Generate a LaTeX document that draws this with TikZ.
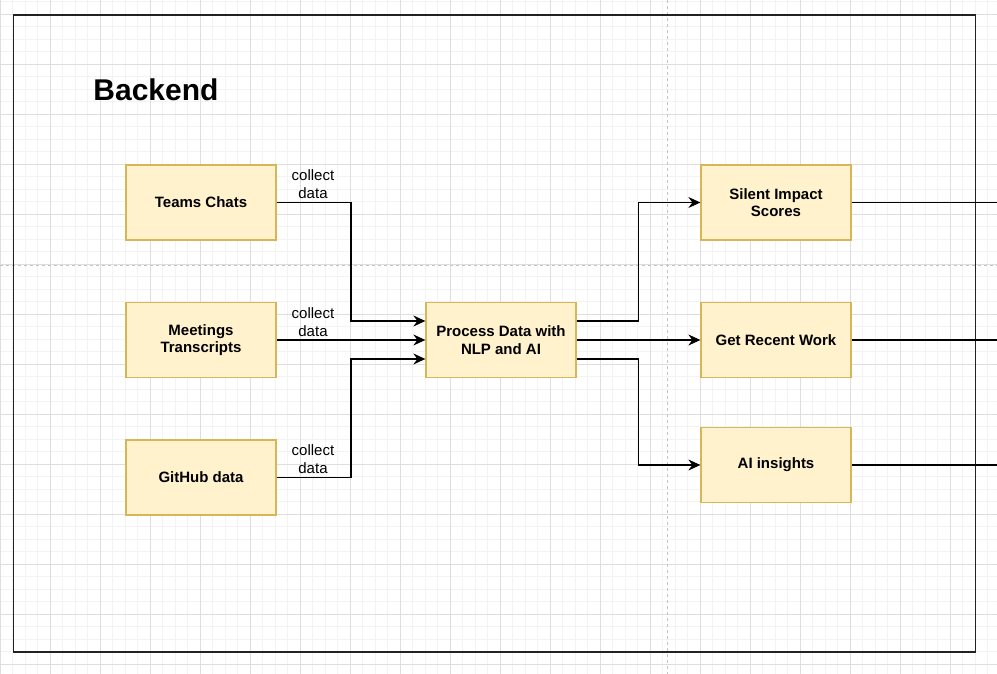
\documentclass[tikz,border=0pt]{standalone}
\usepackage{fontspec}
\setmainfont{Liberation Sans}
\usetikzlibrary{arrows.meta,calc}
\definecolor{boxfill}{HTML}{FFF2CC}
\definecolor{boxline}{HTML}{D6B656}
\definecolor{gridminor}{HTML}{F3F3F3}
\definecolor{gridmajor}{HTML}{DEDEDE}
\definecolor{pageline}{HTML}{C4C4C4}
\definecolor{frameline}{HTML}{222222}
\tikzset{
  box/.style={draw=boxline, fill=boxfill, line width=1.3pt, minimum width=150pt, minimum height=75pt,
    inner sep=0pt, align=center, font=\bfseries\fontsize{15}{17.7}\selectfont},
  arr/.style={draw=black, line width=1.25pt, -{Stealth[length=12pt,width=11pt,inset=4pt]}},
  plainline/.style={draw=black, line width=1.25pt},
  lbl/.style={align=center, inner sep=0pt, font=\fontsize{15}{18}\selectfont},
}
\begin{document}
\begin{tikzpicture}[x=1pt,y=-1pt]
\useasboundingbox (0,0) rectangle (997,674);
\fill[white] (0,0) rectangle (997,674);
% grid
\foreach \i in {0,...,80} {
  \draw[gridminor, line width=1pt] ({\i*12.5},0) -- ({\i*12.5},674);
}
\foreach \j in {0,...,54} {
  \draw[gridminor, line width=1pt] (0,{1.8+\j*12.5}) -- (997,{1.8+\j*12.5});
}
\foreach \i in {0,...,20} {
  \draw[gridmajor, line width=1pt] ({\i*50},0) -- ({\i*50},674);
}
\foreach \j in {0,...,13} {
  \draw[gridmajor, line width=1pt] (0,{14.3+\j*50}) -- (997,{14.3+\j*50});
}
% page break lines
\draw[pageline, line width=1pt, dash pattern=on 3pt off 3pt] (667,0) -- (667,674);
\draw[pageline, line width=1pt, dash pattern=on 3pt off 3pt] (0,265) -- (997,265);
% outer frame
\draw[frameline, line width=1.3pt] (13.5,15) rectangle (975.5,652);
\node[font=\bfseries\fontsize{30}{36}\selectfont, inner sep=0pt] (title) at (156,90) {Backend};
% nodes
\node[box] (tc) at (201,202.5) {Teams Chats};
\node[box] (mt) at (201,340) {Meetings\\Transcripts};
\node[box] (gh) at (201,477.5) {GitHub data};
\node[box] (pd) at (501,340) {Process Data with\\NLP and AI};
\node[box] (si) at (776,202.5) {Silent Impact\\Scores};
\node[box] (gr) at (776,340) {Get Recent Work};
\node[box] (ai) at (776,465) {AI insights};
% inputs
\draw[arr] (tc.east) -- (351,202.5) |- ([yshift=19pt]pd.west);
\draw[arr] (mt.east) -- (pd.west);
\draw[arr] (gh.east) -- (351,477.5) |- ([yshift=-19pt]pd.west);
\node[lbl] (l1) at (313,184) {collect\\data};
\node[lbl] (l2) at (313,322) {collect\\data};
\node[lbl] (l3) at (313,459) {collect\\data};
% outputs
\draw[arr] ([yshift=19pt]pd.east) -- (638.5,321) |- (si.west);
\draw[arr] (pd.east) -- (gr.west);
\draw[arr] ([yshift=-19pt]pd.east) -- (638.5,359) |- (ai.west);
\coordinate (o1) at (997,202.5);
\coordinate (o2) at (997,340);
\coordinate (o3) at (997,465);
\draw[plainline] (si.east) -- (o1);
\draw[plainline] (gr.east) -- (o2);
\draw[plainline] (ai.east) -- (o3);
\end{tikzpicture}
\end{document}
